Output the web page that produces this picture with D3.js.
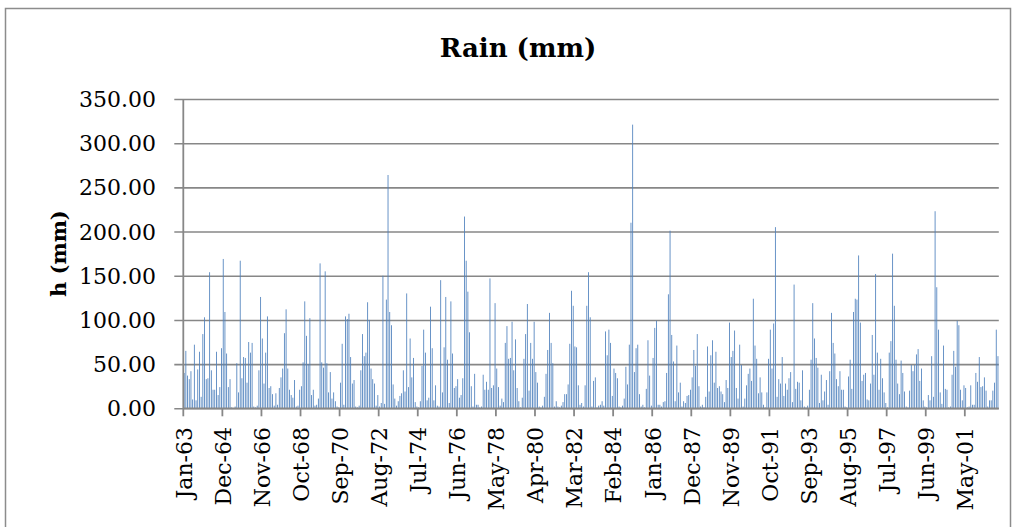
<!DOCTYPE html>
<html>
<head>
<meta charset="utf-8">
<script src="https://cdn.jsdelivr.net/npm/d3@7"></script>
<style>
  html, body { margin: 0; padding: 0; background: #fff; }
  svg { display: block; }
</style>
</head>
<body>
<svg id="chart" width="1016" height="527"></svg>
<script>
// ---- data (monthly rain, mm), Jan-1963 .. Dec-2002 ----
const startYear = 1963;
const monthNames = ["Jan","Feb","Mar","Apr","May","Jun","Jul","Aug","Sep","Oct","Nov","Dec"];
const rain = [
  40,65,37,33,42,10,72,9,44,64,13,84,
  103,33,34,154,43,21,21,64,15,24,68,169,
  109,62,24,33,1,0,2,51,18,167,34,58,
  57,29,75,63,74,2,1,3,43,126,79,28,
  63,104,23,25,16,3,17,4,23,35,45,85,
  112,45,21,15,12,32,2,3,21,25,52,121,
  82,50,102,15,21,3,4,11,164,52,46,155,
  51,18,41,11,18,8,2,1,29,73,4,104,
  101,107,58,28,32,2,1,3,43,84,59,63,
  120,100,45,33,28,3,15,2,6,150,5,123,
  264,109,94,27,11,3,8,14,17,43,19,130,
  24,79,35,57,7,2,1,8,48,89,63,9,
  12,115,68,9,26,3,2,145,18,69,126,55,
  6,121,62,23,25,33,12,15,34,217,167,132,
  86,25,2,39,4,4,1,2,38,21,30,21,
  147,23,26,119,45,24,3,11,7,74,93,56,
  57,98,43,78,23,8,1,12,56,84,118,20,
  74,56,98,41,29,2,1,3,13,39,66,108,
  74,51,2,8,2,1,3,7,16,16,27,73,
  133,116,70,69,26,4,6,2,26,116,154,103,
  2,31,35,1,3,4,8,3,87,60,89,74,
  14,45,40,34,2,1,3,11,47,27,72,210,
  321,41,68,72,16,2,4,1,22,77,37,3,
  57,91,99,4,4,2,7,8,40,129,201,83,
  53,8,71,18,29,2,8,6,14,15,21,35,
  66,48,84,25,2,4,1,13,70,19,60,77,
  29,64,23,25,19,16,7,32,23,97,58,65,
  88,23,11,72,49,2,11,26,39,45,31,124,
  71,56,17,35,18,4,1,18,56,89,45,96,
  205,13,33,28,58,14,28,21,34,41,7,140,
  22,30,29,9,43,2,1,3,21,55,119,79,
  57,46,6,38,9,19,32,4,42,108,74,62,
  33,25,42,21,21,2,1,36,55,22,109,124,
  123,173,97,31,38,40,10,9,28,83,38,152,
  63,21,56,34,18,6,1,63,76,175,116,55,
  28,16,54,40,19,2,1,20,49,42,49,61,
  67,31,45,9,2,1,15,9,59,13,223,137,
  89,18,5,71,22,21,1,2,38,65,47,99,
  94,21,9,26,23,1,2,26,4,4,40,30,
  58,24,25,35,20,2,9,9,20,29,89,59
];
const categories = rain.map((_, i) =>
  monthNames[i % 12] + "-" + String((startYear + Math.floor(i / 12)) % 100).padStart(2, "0"));
const labelEvery = 23;
const yTicks = [0, 50, 100, 150, 200, 250, 300, 350];
const titleText = "Rain (mm)";
const yTitle = "h (mm)";

// ---- layout ----
const plot = { left: 183.3, right: 998.8, top: 99, bottom: 408.3 };
const svg = d3.select("#chart");

// outer chart border
svg.append("rect")
  .attr("x", 5.5).attr("y", 8.5).attr("width", 1005).attr("height", 540)
  .attr("fill", "#fff").attr("stroke", "#8c8c8c").attr("stroke-width", 1.5);

const x = d3.scaleBand().domain(categories).range([plot.left, plot.right])
  .paddingInner(0.5).paddingOuter(0.25);
const y = d3.scaleLinear().domain([0, 350]).range([plot.bottom, plot.top]);
const step = x.step();

// gridlines + y tick labels
const yAxis = d3.axisLeft(y).tickValues(yTicks)
  .tickSize(-(plot.right - plot.left)).tickSizeOuter(0).tickPadding(18)
  .tickFormat(d3.format(".2f"));
const gy = svg.append("g").attr("transform", `translate(${plot.left},0)`).call(yAxis);
gy.select(".domain").remove();
gy.selectAll(".tick line").attr("x1", -9).attr("stroke", "#878787").attr("stroke-width", 1.6);
gy.selectAll(".tick text")
  .attr("font-family", "DejaVu Serif").attr("font-size", 22).attr("fill", "#000")
  .attr("x", 156 - plot.left).attr("dy", null).attr("dominant-baseline", "central");

// bars
svg.append("g").selectAll("rect").data(rain).join("rect")
  .attr("x", (d, i) => x(categories[i]))
  .attr("width", x.bandwidth())
  .attr("y", d => y(d))
  .attr("height", d => y(0) - y(d))
  .attr("fill", "#4F81BD");

// x axis (ticks between categories, every 23 months)
const labelled = categories.filter((_, i) => i % labelEvery === 0);
const gx = svg.append("g").attr("transform", `translate(0,${plot.bottom})`);
gx.append("line").attr("x1", plot.left).attr("x2", plot.right)
  .attr("stroke", "#878787").attr("stroke-width", 1.8);
gx.selectAll("line.tk").data(labelled).join("line").attr("class", "tk")
  .attr("x1", d => x(d) - step * 0.25).attr("x2", d => x(d) - step * 0.25)
  .attr("y1", 0).attr("y2", 8)
  .attr("stroke", "#878787").attr("stroke-width", 1.8);
gx.selectAll("text").data(labelled).join("text")
  .attr("transform", d => `translate(${x(d) + x.bandwidth() / 2},${427 - plot.bottom}) rotate(-90)`)
  .attr("text-anchor", "end").attr("dominant-baseline", "central")
  .attr("font-family", "DejaVu Serif").attr("font-size", 22).attr("fill", "#000")
  .text(d => d);

// y axis line
svg.append("line").attr("x1", plot.left).attr("x2", plot.left)
  .attr("y1", plot.top).attr("y2", plot.bottom)
  .attr("stroke", "#878787").attr("stroke-width", 1.8);

// titles
svg.append("text").attr("x", 518).attr("y", 57).attr("text-anchor", "middle")
  .attr("font-family", "DejaVu Serif").attr("font-weight", "bold").attr("font-size", 26)
  .text(titleText);
svg.append("text").attr("transform", `translate(58,${(plot.top + plot.bottom) / 2}) rotate(-90)`)
  .attr("text-anchor", "middle").attr("dominant-baseline", "central")
  .attr("font-family", "DejaVu Serif").attr("font-weight", "bold").attr("font-size", 21)
  .text(yTitle);
</script>
</body>
</html>
